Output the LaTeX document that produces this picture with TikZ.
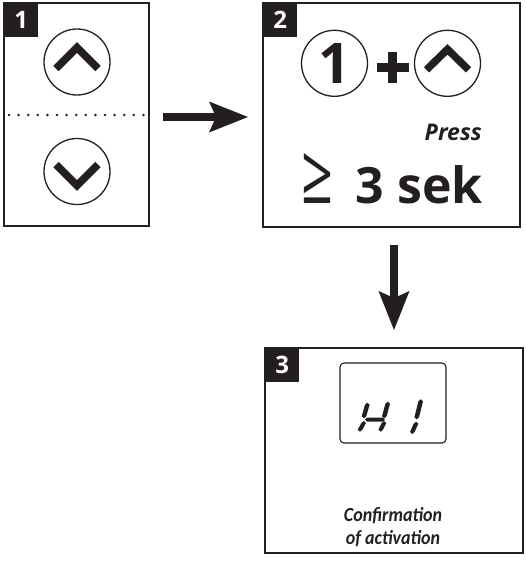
\documentclass[tikz,border=0pt]{standalone}
\usepackage{fontspec}
\usepackage{graphicx}
\setmainfont{Open Sans}
\newfontfamily\carl{Carlito}
\usetikzlibrary{calc,arrows.meta}
\definecolor{ink}{HTML}{231F20}
\tikzset{
  panel/.style={draw=ink, line width=2pt, anchor=north west, inner sep=0pt, outer sep=0pt},
  tag/.style={fill=ink, text=white, minimum size=34pt, inner sep=0pt, anchor=north west, font=\bfseries\fontsize{24}{24}\selectfont},
  btn/.style={circle, draw=ink, line width=1.3pt, minimum size=66pt, inner sep=0pt},
  chev/.style={draw=ink, line width=7.5pt, line join=miter, line cap=butt},
  bigarrow/.style={draw=ink, line width=8pt, -{Stealth[length=39pt,width=31pt,inset=7pt,line width=0pt]}},
  segfill/.style={fill=ink},
  captxt/.style={font=\carl\bfseries\itshape\fontsize{20}{20}\selectfont, text=ink, anchor=base, inner sep=0pt},
}
\newcommand\vsg[2]{\fill[segfill] #1 -- ++(2.3,2) -- ($#2+(2.3,-2)$) -- #2 -- ++(-2.3,-2) -- ($#1+(-2.3,2)$) -- cycle;}
\newcommand\hsg[2]{\fill[segfill] #1 -- ++(2,-2) -- ($#2+(-2,-2)$) -- #2 -- ++(-2,2) -- ($#1+(2,2)$) -- cycle;}
\begin{document}
\begin{tikzpicture}[x=1pt,y=-1pt]
\useasboundingbox (0,0) rectangle (525,562);
% panel 1
\node[panel, minimum width=145pt, minimum height=223pt] (b1) at (4,3) {};
\node[tag] (t1) at (b1.north west) {1};
\node[btn] (u1) at (77,62) {};
\draw[chev] ($(u1)+(-21,6.5)$) -- ($(u1)+(0,-14.5)$) -- ($(u1)+(21,6.5)$);
\draw[ink, line width=2.8pt, line cap=round, dash pattern=on 0pt off 9.6pt] ($(b1.west)+(5,0.5)$) -- ($(b1.east)+(-2,0.5)$);
\node[btn] (d1) at (77,171.5) {};
\draw[chev] ($(d1)+(-21,-7)$) -- ($(d1)+(0,14)$) -- ($(d1)+(21,-7)$);
% panel 2
\node[panel, minimum width=257pt, minimum height=224pt] (b2) at (263,3) {};
\node[tag] (t2) at (b2.north west) {2};
\node[btn, font=\bfseries\fontsize{56}{56}\selectfont, text=ink] (one) at (334.5,63.3) {1};
\node[btn] (u2) at (447.5,63.3) {};
\draw[chev] ($(u2)+(-21,6.5)$) -- ($(u2)+(0,-14)$) -- ($(u2)+(21,6.5)$);
\coordinate (plus) at (392.5,67.5);
\draw[ink, line width=8.5pt] ($(plus)+(-16,0)$) -- ($(plus)+(16,0)$) ($(plus)+(0,-15.5)$) -- ($(plus)+(0,15.5)$);
\node[font=\bfseries\itshape\fontsize{23}{23}\selectfont, text=ink, anchor=base east, inner sep=0pt] (press) at (482,140) {Press};
\node[text=ink, anchor=south west, inner sep=0pt] (ge) at (301,203.5) {\resizebox{32pt}{50pt}{≥}};
\node[font=\bfseries\fontsize{50}{50}\selectfont, text=ink, anchor=base east, inner sep=0pt] (sek) at (483,203) {3 sek};
% panel 3
\node[panel, minimum width=258pt, minimum height=205pt] (b3) at (265,348) {};
\node[tag] (t3) at (b3.north west) {3};
\node[draw=ink, line width=1.1pt, rounded corners=4pt, minimum width=106pt, minimum height=80pt, anchor=north west, outer sep=0pt] (lcd) at (340,363) {};
\vsg{(367.3,402.7)}{(364,418.3)}
\vsg{(363.7,421)}{(360,431.7)}
\vsg{(387.7,401.7)}{(384.3,418.3)}
\vsg{(384,421)}{(380.7,431.7)}
\hsg{(365,419.6)}{(385,419.6)}
\vsg{(420.7,399.3)}{(416.7,419.3)}
\vsg{(416,421.7)}{(412.3,434)}
\node[captxt] (conf1) at (393,521) {\scalebox{0.9}[1]{Confirmation}};
\node[captxt] (conf2) at (393,544) {\scalebox{0.9}[1]{of activation}};
% arrows
\draw[bigarrow, shorten <=14pt, shorten >=15pt] ($(b1.east)+(0,2.5)$) -- ($(b2.west)+(0,2)$);
\draw[bigarrow, shorten <=18pt, shorten >=18pt] (b3.north |- b2.south) -- (b3.north);
\end{tikzpicture}
\end{document}
